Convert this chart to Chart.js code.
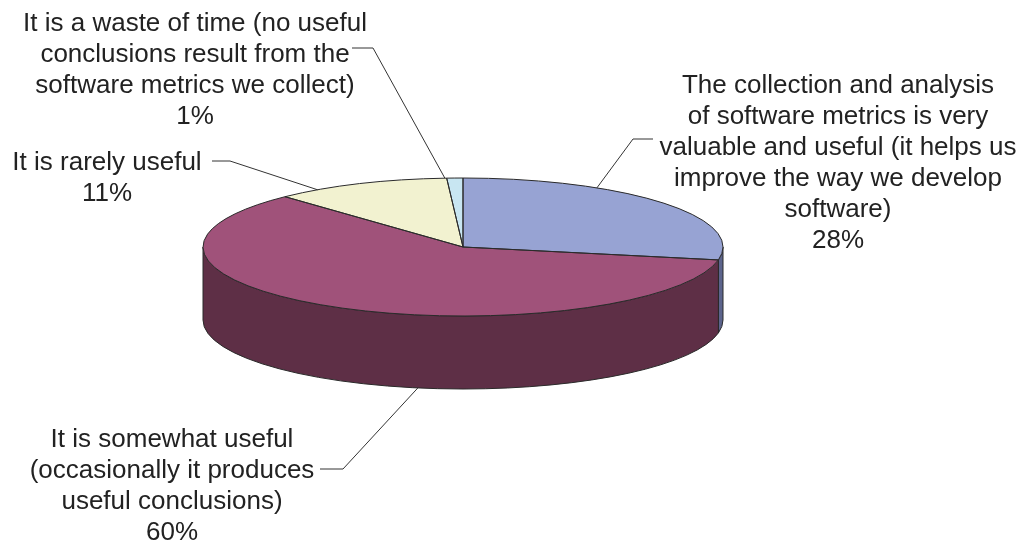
<!DOCTYPE html>
<html>
<head>
<meta charset="utf-8">
<script src="https://cdn.jsdelivr.net/npm/chart.js@4/dist/chart.umd.min.js"></script>
<style>
  html, body { margin: 0; padding: 0; background: #ffffff; }
  canvas { display: block; }
</style>
</head>
<body>
<canvas id="chart" width="1024" height="544"></canvas>
<script>
// Survey answers: how useful is collecting software metrics?
const categories = [
  ["The collection and analysis", "of software metrics is very", "valuable and useful (it helps us", "improve the way we develop", "software)"],
  ["It is somewhat useful", "(occasionally it produces", "useful conclusions)"],
  ["It is rarely useful"],
  ["It is a waste of time (no useful", "conclusions result from the", "software metrics we collect)"]
];
const shares = [28, 60, 11, 1];
const topColors = ["#97A3D3", "#A0527A", "#F2F2D0", "#C8E6F2"];
const sideColors = ["#5C648C", "#5E2F46", "#A3A38A", "#83A0AC"];

// Turns the flat pie into a tilted disc with a visible rim.
const pie3d = {
  id: 'pie3d',
  beforeDatasetsDraw(chart, args, opts) {
    const arcs = chart.getDatasetMeta(0).data;
    const ctx = chart.ctx;
    const first = arcs[0];
    const cx = first.x, r = first.outerRadius;
    const ry = r * opts.tilt, cy = opts.centerY, d = opts.depth;

    // front rim: only the lower half of the disc faces the viewer
    ctx.save();
    ctx.lineWidth = 1;
    ctx.strokeStyle = opts.edge;
    ctx.lineJoin = 'round';
    arcs.forEach((arc, i) => {
      const s = Math.max(arc.startAngle, 0);
      const e = Math.min(arc.endAngle, Math.PI);
      if (e <= s) return;
      ctx.beginPath();
      ctx.ellipse(cx, cy, r, ry, 0, s, e);
      ctx.ellipse(cx, cy + d, r, ry, 0, e, s, true);
      ctx.closePath();
      ctx.fillStyle = sideColors[i];
      ctx.fill();
      ctx.stroke();
    });
    ctx.restore();

    // squash the slices drawn by Chart.js into an ellipse
    ctx.save();
    ctx.translate(cx, cy);
    ctx.scale(1, opts.tilt);
    ctx.translate(-cx, -first.y);
  },
  afterDatasetsDraw(chart, args, opts) {
    const ctx = chart.ctx;
    ctx.restore();
    const arcs = chart.getDatasetMeta(0).data;
    const cx = arcs[0].x, r = arcs[0].outerRadius;
    const ry = r * opts.tilt, cy = opts.centerY;
    ctx.save();
    ctx.lineWidth = 1;
    ctx.strokeStyle = opts.edge;
    ctx.lineJoin = 'round';
    arcs.forEach(arc => {
      ctx.beginPath();
      ctx.moveTo(cx, cy);
      ctx.ellipse(cx, cy, r, ry, 0, arc.startAngle, arc.endAngle);
      ctx.closePath();
      ctx.stroke();
    });
    ctx.restore();
  }
};

// Multi-line category labels with leader lines to their slices.
const pieLabels = {
  id: 'pieLabels',
  afterDraw(chart, args, opts) {
    const ctx = chart.ctx;
    const arcs = chart.getDatasetMeta(0).data;
    const cx = arcs[0].x, r = arcs[0].outerRadius;
    const p3 = chart.options.plugins.pie3d;
    const ry = r * p3.tilt, cy = p3.centerY, d = p3.depth;
    const labels = chart.data.labels;
    const values = chart.data.datasets[0].data;

    ctx.save();
    ctx.font = opts.font;
    ctx.fillStyle = opts.color;
    ctx.textAlign = 'center';
    ctx.textBaseline = 'alphabetic';
    opts.items.forEach((item, i) => {
      const lines = labels[i].concat([values[i] + '%']);
      lines.forEach((txt, k) => ctx.fillText(txt, item.x, item.y + k * opts.lineHeight));

      const t = (item.anchorDeg - 90) * Math.PI / 180;
      const ax = cx + r * Math.cos(t);
      const ay = cy + ry * Math.sin(t) + (item.onRimBottom ? d : 0);
      ctx.beginPath();
      ctx.moveTo(item.leader[0][0], item.leader[0][1]);
      ctx.lineTo(item.leader[1][0], item.leader[1][1]);
      ctx.lineTo(ax, ay);
      ctx.strokeStyle = opts.lineColor;
      ctx.lineWidth = 1;
      ctx.stroke();
    });
    ctx.restore();
  }
};

new Chart(document.getElementById('chart'), {
  type: 'pie',
  data: {
    labels: categories,
    datasets: [{
      data: shares,
      backgroundColor: topColors,
      borderWidth: 0,
      hoverOffset: 0
    }]
  },
  options: {
    responsive: false,
    animation: false,
    devicePixelRatio: 1,
    events: [],
    layout: { padding: { left: 203, right: 301, top: 0, bottom: 0 } },
    plugins: {
      legend: { display: false },
      tooltip: { enabled: false },
      pie3d: { tilt: 69 / 260, centerY: 247, depth: 73, edge: '#2a2a2a' },
      pieLabels: {
        font: '26px "Liberation Sans", Arial, sans-serif',
        color: '#222222',
        lineColor: '#333333',
        lineHeight: 31,
        items: [
          { x: 838, y: 93,  leader: [[653, 139], [633, 139]], anchorDeg: 31 },
          { x: 172, y: 447, leader: [[320, 469], [343, 469]], anchorDeg: 190, onRimBottom: true },
          { x: 107, y: 170, leader: [[212, 161], [230, 161]], anchorDeg: 326 },
          { x: 195, y: 31,  leader: [[352, 48],  [373, 48]],  anchorDeg: 356 }
        ]
      }
    }
  },
  plugins: [pie3d, pieLabels]
});
</script>
</body>
</html>
